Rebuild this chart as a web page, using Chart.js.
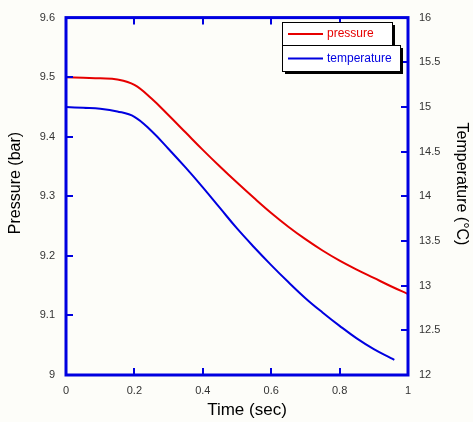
<!DOCTYPE html>
<html>
<head>
<meta charset="utf-8">
<script src="https://cdn.jsdelivr.net/npm/chart.js@4"></script>
<style>
  html, body { margin: 0; padding: 0; background: #fdfdf9; }
  canvas { display: block; }
</style>
</head>
<body>
<canvas id="chart" width="473" height="422"></canvas>
<script>
// DATA
const timeP = [0, 0.05, 0.1, 0.15, 0.2, 0.25, 0.3, 0.35, 0.4, 0.45, 0.5, 0.55, 0.6, 0.65, 0.7, 0.75, 0.8, 0.85, 0.9, 0.95, 1.0];
const pressure = [9.500, 9.499, 9.498, 9.496, 9.487, 9.464, 9.436, 9.407, 9.378, 9.350, 9.323, 9.297, 9.272, 9.249, 9.228, 9.209, 9.192, 9.177, 9.163, 9.149, 9.136];
const timeT = [0, 0.05, 0.1, 0.15, 0.2, 0.25, 0.3, 0.35, 0.4, 0.45, 0.5, 0.55, 0.6, 0.65, 0.7, 0.75, 0.8, 0.85, 0.9, 0.95, 0.96];
const temperature = [15.00, 14.99, 14.98, 14.95, 14.89, 14.73, 14.53, 14.32, 14.10, 13.87, 13.64, 13.43, 13.23, 13.04, 12.86, 12.70, 12.55, 12.41, 12.29, 12.19, 12.17];

const xTicks = [0, 0.2, 0.4, 0.6, 0.8, 1];
const xTickLabels = ["0", "0.2", "0.4", "0.6", "0.8", "1"];
const pTicks = [9, 9.1, 9.2, 9.3, 9.4, 9.5, 9.6];
const pTickLabels = ["9", "9.1", "9.2", "9.3", "9.4", "9.5", "9.6"];
const tTicks = [12, 12.5, 13, 13.5, 14, 14.5, 15, 15.5, 16];
const tTickLabels = ["12", "12.5", "13", "13.5", "14", "14.5", "15", "15.5", "16"];

const seriesLabels = ["pressure", "temperature"];
const xTitle = "Time (sec)";
const pTitle = "Pressure (bar)";
const tTitle = "Temperature (\u00B0C)";

// COLOURS
const RED = "#e60000";
const BLUE = "#0000e0";
const BG = "#fdfdf9";
const TICK_FONT = { family: "'Liberation Sans', Arial, sans-serif", size: 11 };

function useTicks(values) {
  return (scale) => { scale.ticks = values.map((v) => ({ value: v })); };
}

// frame, inward ticks, titles and the boxed legend
const decorations = {
  id: "decorations",
  beforeDraw(chart) {
    const ctx = chart.ctx;
    ctx.save();
    ctx.fillStyle = BG;
    ctx.fillRect(0, 0, chart.width, chart.height);
    ctx.restore();
  },
  afterDraw(chart) {
    const { ctx, chartArea: a, scales } = chart;
    const len = 7;
    ctx.save();

    // inward tick marks
    ctx.strokeStyle = BLUE;
    ctx.lineWidth = 2;
    ctx.beginPath();
    xTicks.forEach((v) => {
      const x = Math.round(scales.x.getPixelForValue(v));
      ctx.moveTo(x, a.bottom); ctx.lineTo(x, a.bottom - len);
      ctx.moveTo(x, a.top); ctx.lineTo(x, a.top + len);
    });
    pTicks.forEach((v) => {
      const y = Math.round(scales.y.getPixelForValue(v));
      ctx.moveTo(a.left, y); ctx.lineTo(a.left + len, y);
    });
    tTicks.forEach((v) => {
      const y = Math.round(scales.y1.getPixelForValue(v));
      ctx.moveTo(a.right, y); ctx.lineTo(a.right - len, y);
    });
    ctx.stroke();

    // plot frame
    ctx.lineWidth = 3;
    ctx.strokeRect(a.left, a.top, a.right - a.left, a.bottom - a.top);

    // axis titles
    ctx.fillStyle = "#000";
    ctx.textAlign = "center";
    ctx.textBaseline = "middle";
    ctx.font = "17px 'Liberation Sans', Arial, sans-serif";
    ctx.fillText(xTitle, 247, 410);

    ctx.font = "16px 'Liberation Sans', Arial, sans-serif";
    ctx.save();
    ctx.translate(16, 183);
    ctx.rotate(-Math.PI / 2);
    ctx.fillText(pTitle, 0, 0);
    ctx.restore();

    ctx.save();
    ctx.translate(461, 184);
    ctx.rotate(Math.PI / 2);
    ctx.fillText(tTitle, 0, 0);
    ctx.restore();

    // legend: two stacked boxes with a drop shadow
    const boxes = [
      { x: 282, y: 22, w: 110, h: 23 },
      { x: 282, y: 45, w: 118, h: 26 }
    ];
    chart.data.datasets.forEach((ds, i) => {
      const b = boxes[i];
      ctx.fillStyle = "#000";
      ctx.fillRect(b.x + 3, b.y + 3, b.w, b.h);
      ctx.fillStyle = "#fff";
      ctx.fillRect(b.x, b.y, b.w, b.h);
      ctx.strokeStyle = "#000";
      ctx.lineWidth = 1;
      ctx.strokeRect(b.x + 0.5, b.y + 0.5, b.w, b.h);

      const cy = b.y + b.h / 2 + 0.5;
      ctx.strokeStyle = ds.borderColor;
      ctx.lineWidth = 2;
      ctx.beginPath();
      ctx.moveTo(b.x + 6, cy);
      ctx.lineTo(b.x + 41, cy);
      ctx.stroke();

      ctx.fillStyle = ds.borderColor;
      ctx.textAlign = "left";
      ctx.font = "12px 'Liberation Sans', Arial, sans-serif";
      ctx.fillText(ds.label, b.x + 45, cy);
    });

    ctx.restore();
  }
};

const ctx = document.getElementById("chart");

new Chart(ctx, {
  type: "line",
  data: {
    datasets: [
      {
        label: seriesLabels[0],
        data: timeP.map((t, i) => ({ x: t, y: pressure[i] })),
        borderColor: RED,
        borderWidth: 2,
        pointRadius: 0,
        tension: 0.4,
        yAxisID: "y"
      },
      {
        label: seriesLabels[1],
        data: timeT.map((t, i) => ({ x: t, y: temperature[i] })),
        borderColor: BLUE,
        borderWidth: 2,
        pointRadius: 0,
        tension: 0.4,
        yAxisID: "y1"
      }
    ]
  },
  options: {
    responsive: false,
    animation: false,
    layout: { padding: { top: 14, right: 0, bottom: 0, left: 0 } },
    plugins: {
      legend: { display: false },
      tooltip: { enabled: false }
    },
    scales: {
      x: {
        type: "linear",
        min: 0,
        max: 1,
        afterBuildTicks: useTicks(xTicks),
        afterFit: (s) => { s.height = 47; },
        grid: { display: false, drawTicks: false },
        border: { display: false },
        ticks: {
          padding: 9,
          color: "#333",
          font: TICK_FONT,
          maxRotation: 0,
          autoSkip: false,
          callback: (v, i) => xTickLabels[i]
        }
      },
      y: {
        position: "left",
        min: 9,
        max: 9.6,
        afterBuildTicks: useTicks(pTicks),
        afterFit: (s) => { s.width = 66; },
        grid: { display: false, drawTicks: false },
        border: { display: false },
        ticks: {
          padding: 11,
          color: "#333",
          font: TICK_FONT,
          autoSkip: false,
          callback: (v, i) => pTickLabels[i]
        }
      },
      y1: {
        position: "right",
        min: 12,
        max: 16,
        afterBuildTicks: useTicks(tTicks),
        afterFit: (s) => { s.width = 65; },
        grid: { display: false, drawTicks: false },
        border: { display: false },
        ticks: {
          padding: 11,
          color: "#333",
          font: TICK_FONT,
          autoSkip: false,
          callback: (v, i) => tTickLabels[i]
        }
      }
    }
  },
  plugins: [decorations]
});
</script>
</body>
</html>
